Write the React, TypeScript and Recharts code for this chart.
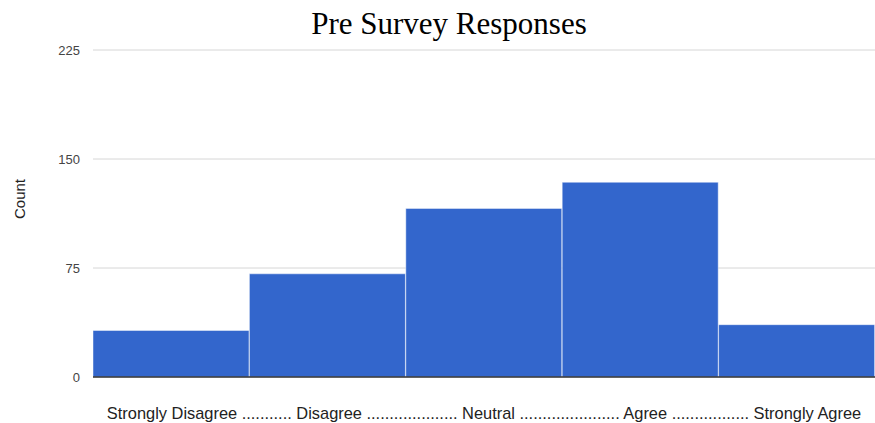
import { BarChart, Bar, XAxis, YAxis, CartesianGrid } from 'recharts';

const categories = ['Strongly Disagree', 'Disagree', 'Neutral', 'Agree', 'Strongly Agree'];
const counts = [32, 71, 116, 134, 36];
const yTicks = [0, 75, 150, 225];
const xTitle =
  'Strongly Disagree ........... Disagree .................... Neutral ...................... Agree ................. Strongly Agree';

const data = categories.map((c, i) => ({ name: c, count: counts[i] }));

// rotated "Count" title, a little above the plot middle like the original
const CountLabel = () => (
  <text
    x={19}
    y={199}
    transform="rotate(-90 19 199)"
    textAnchor="middle"
    dominantBaseline="central"
    fill="#222"
    fontSize={15}
  >
    Count
  </text>
);

export default function App() {
  return (
    <div style={{ position: 'absolute', left: 0, top: 0, width: 875, height: 423, background: '#fff' }}>
      <div
        style={{
          position: 'absolute',
          left: 23,
          top: 8,
          width: 852,
          textAlign: 'center',
          fontFamily: '"Liberation Serif", serif',
          fontSize: 31,
          color: '#000',
          lineHeight: '31px',
        }}
      >
        Pre Survey Responses
      </div>
      <BarChart
        width={875}
        height={423}
        data={data}
        barCategoryGap={0}
        margin={{ top: 50, right: 0, left: 0, bottom: 0 }}
        style={{ fontFamily: '"Liberation Sans", Arial, sans-serif' }}
      >
        <CartesianGrid vertical={false} stroke="#d6d6d6" />
        <XAxis
          dataKey="name"
          height={46}
          tick={false}
          tickLine={false}
          axisLine={{ stroke: '#333', strokeWidth: 1.5 }}
          label={{ value: xTitle, position: 'insideBottom', offset: 4, fill: '#222', fontSize: 16.4 }}
        />
        <YAxis
          width={93}
          domain={[0, 225]}
          ticks={yTicks}
          axisLine={false}
          tickLine={false}
          tickMargin={7}
          tick={{ fill: '#444', fontSize: 13 }}
          label={<CountLabel />}
        />
        <Bar
          dataKey="count"
          fill="#3366cc"
          stroke="#ffffff"
          strokeOpacity={0.45}
          strokeWidth={1}
          isAnimationActive={false}
        />
      </BarChart>
    </div>
  );
}
